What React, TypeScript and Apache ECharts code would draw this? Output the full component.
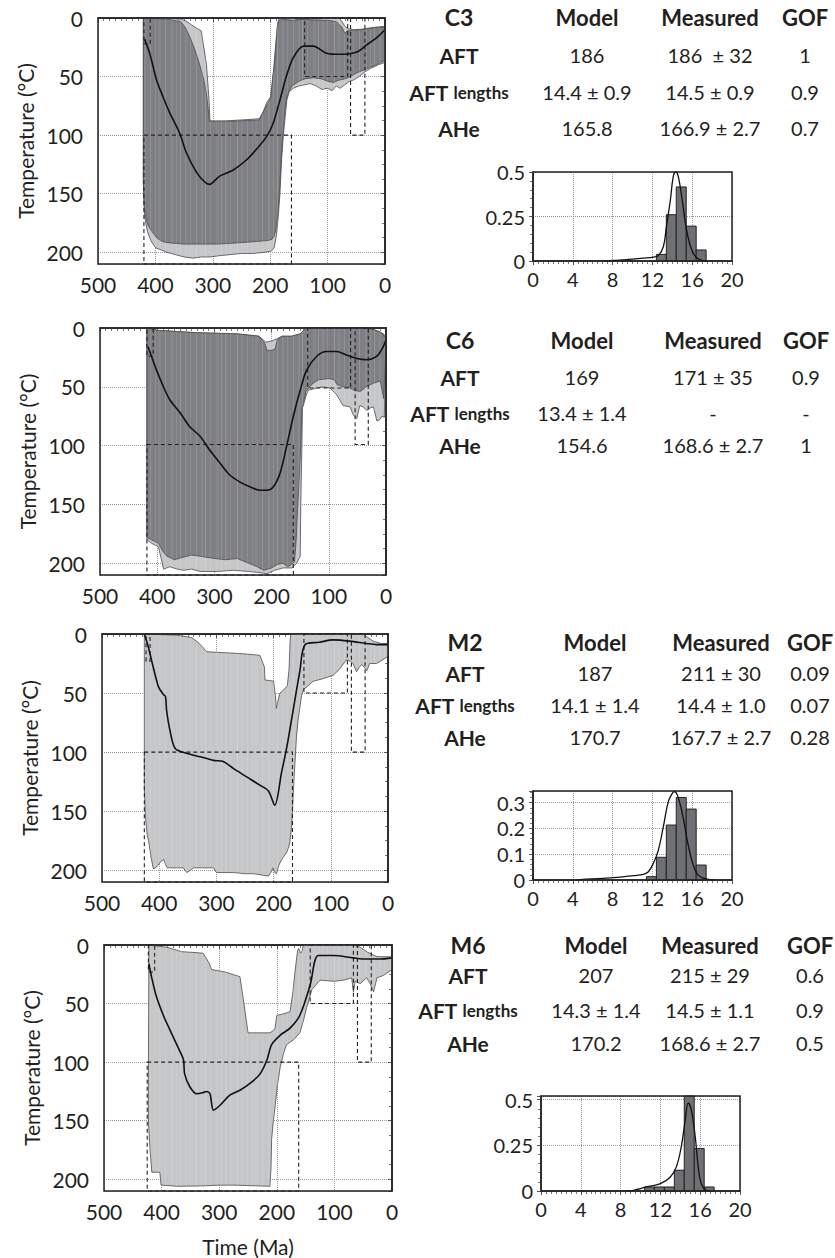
import React, { useEffect, useRef } from "react";
import * as echarts from "echarts";

type Pt = [number, number];
type Box = [number, number, number, number];

// ---------------- C3 ----------------
const c3LightUpper: Pt[] = [[421,0],[380,0],[355,1],[345,3],[337,6],[327,9],[320,11],[317,21],[314,30],[311,40],[308,60],[306,75],[305,88],[280,88],[250,87],[219,86],[212,80],[206,72],[199,67],[196,55],[193,38],[190,20],[187,5],[185,1],[180,0],[160,0],[148,2],[138,0],[118,1],[100,0],[80,0],[75,3],[70,7],[65,9],[55,10],[40,9.5],[20,8],[0,7]];
const c3LightLower: Pt[] = [[421,140],[420,160],[418,172],[414,182],[408,190],[400,196],[390,198],[380,200],[365,202],[350,204],[335,205],[320,204],[305,204],[290,203],[270,202],[250,201],[230,201],[210,200],[198,199],[193,196],[189,185],[186,170],[183,150],[180,120],[177,100],[174,85],[171,70],[167,63],[160,60],[150,58],[140,57],[130,56],[120,58],[110,61],[100,60],[92,62],[85,58],[78,60],[70,57],[62,54],[55,53],[45,50],[35,46],[25,43],[12,40],[0,38]];
const c3DarkUpper: Pt[] = [[421,0],[380,1],[356,3],[348,8],[340,16],[332,26],[324,38],[316,52],[311,65],[308,78],[306,88],[260,88],[219,87],[210,78],[203,72],[199,68],[196,52],[193,42],[190,25],[188,10],[186,3],[180,1],[160,2],[140,1],[120,2],[100,2],[85,3],[75,8],[70,13],[66,11],[55,10.5],[40,10],[20,8.5],[0,8]];
const c3DarkLower: Pt[] = [[421,140],[419,160],[417,170],[413,177],[405,183],[397,188],[387,191],[375,192],[350,193],[320,193],[290,193],[260,192],[230,191],[205,190],[197,189],[193,186],[190,180],[187,168],[184,150],[181,120],[178,100],[175,82],[172,70],[168,63],[162,58],[150,54],[140,52],[125,51],[110,52],[100,54],[90,55],[80,53],[70,52],[60,50],[50,47],[40,45],[30,43],[15,40],[0,36]];
const c3Best: Pt[] = [[419,18],[410,30],[398,53],[387,67],[375,81],[358,98],[346,115],[328,132],[314,140],[306,142],[288,135],[265,130],[241,121],[224,112],[206,101],[195,90],[183,70],[172,50],[160,34],[142,24],[125,24],[102,30],[78,31],[49,29],[32,23],[15,17],[0,10]];
const c3Boxes: Box[] = [[420,409,0,22],[420,163,100,210],[140,65,0,50],[60,35,0,100]];

// ---------------- C6 ----------------
const c6LightUpper: Pt[] = [[418,0],[400,2],[330,4],[260,5],[222,7],[210,12],[200,11],[190,9],[182,7],[165,7],[150,5],[144,2],[142,0],[45,0],[25,1],[12,3],[4,5],[0,10]];
const c6LightLower: Pt[] = [[418,180],[410,183],[398,186],[392,198],[389,205],[378,203],[365,205],[354,206],[340,205],[325,207],[296,207],[267,206],[240,207],[220,208],[208,209],[195,206],[180,204],[165,204],[160,202],[156,200],[152,196],[150,194],[149,150],[147,100],[146,68],[144,65],[140,58],[136,53],[121,51],[110,50],[98,51],[86,57],[75,66],[63,67],[57,74],[51,77],[46,66],[40,67],[34,70],[28,68],[22,67],[16,79],[11,78],[7,75],[3,76],[0,11]];
const c6DarkUpper: Pt[] = [[418,0],[400,2],[330,4],[260,5],[222,7],[212,13],[208,19],[200,19],[194,18],[190,10],[182,7],[165,7],[150,5],[144,2],[142,0],[45,0],[25,1],[12,3],[4,6],[0,10]];
const c6DarkLower: Pt[] = [[418,178],[410,180],[398,183],[390,190],[383,194],[370,197],[355,195],[340,193],[325,194],[300,196],[280,197],[260,196],[240,200],[225,203],[214,206],[200,204],[190,201],[180,200],[172,203],[165,201],[160,199],[157,180],[156,168],[152,130],[149,100],[147,68],[144,63],[140,54],[130,48],[118,44],[100,43],[90,44],[86,48],[75,50],[63,51],[55,53],[45,54],[35,50],[22,47],[10,45],[4,60],[0,11]];
const c6Best: Pt[] = [[416,16],[410,24],[401,36],[389,50],[378,61],[360,72],[343,84],[325,92],[308,104],[290,115],[273,125],[255,131],[238,135],[220,138],[209,138],[197,135],[185,123],[174,101],[162,75],[150,53],[139,36],[121,24],[104,20],[86,20],[69,23],[51,26],[34,27],[16,24],[5,16],[0,10]];
const c6Boxes: Box[] = [[418,407,0,24],[418,162,99,210],[137,62,0,51],[54,31,0,99]];

// ---------------- M2 ----------------
const m2LightUpper: Pt[] = [[426,0],[400,0.5],[370,1],[343,3],[330,8],[317,15],[300,15.5],[260,16.5],[224,18],[216,28],[215,39],[205,39.5],[200,40],[197,52],[195,63],[193,58],[189,50],[186,49],[180,46],[176,44],[173,30],[171,5],[170,0],[44,0],[35,3],[26,6],[12,8],[0,8]];
const m2LightLower: Pt[] = [[426,130],[424,155],[421,170],[418.6,175],[414,190],[410,199],[404,197],[398,193],[392,191],[389,195],[386,198],[370,198],[358,198],[352,202],[345,200],[340,198],[320,198],[305,198],[300,202],[285,202],[270,202],[250,203],[235,203],[222,204],[209,205],[205,202],[201,198],[198,202],[195,203],[191,196],[187,192],[183,189],[177,185],[172,178],[169,165],[167,150],[164,120],[160,87],[157,72],[154,62],[151,52],[148,47],[140,44],[131,40],[115,38],[96,35],[85,30],[73,22],[66,23],[61,25],[55,32],[50,28],[46,26],[40,29],[37,31],[32,25],[20,25],[10,22],[0,19]];
const m2Best: Pt[] = [[426,0],[419,11],[410,29],[401,45],[393,51],[389,53],[387,65],[381,82],[372,97],[352,101],[328,104],[305,107],[288,108],[270,114],[247,121],[224,128],[209,133],[198,145],[186,117],[177,96],[166,65],[154,31],[145,9],[120,7],[96,5],[67,6],[38,8],[20,9],[0,9]];
const m2Boxes: Box[] = [[423,416,0,23],[426,167,100,210],[147,71,0,50],[64,40,0,100]];

// ---------------- M6 ----------------
const m6LightUpper: Pt[] = [[422,0],[390,2],[365,5.7],[340,6.5],[328,7],[318,15],[313,21],[290,23],[264,27],[257,50],[250,75],[230,75],[212,75],[206,73],[203,71],[200,60],[190,59],[177,57],[172,40],[168,21],[164,5],[162,3],[159,7],[156,5],[154,0],[67,0],[55,2],[43,6],[26,10],[0,10]];
const m6LightLower: Pt[] = [[423,115],[423,150],[420,175],[417,194],[410,194],[403,194],[401,205],[370,206],[333,205.7],[300,205],[275,205],[240,205.5],[212,206],[210,190],[209,166],[206,150],[203,138],[199,120],[194,104],[188,92],[183,85],[171,81],[160,75],[154,65],[148,53],[139,38],[125,30],[101,31],[84,30],[70,28],[67,40],[64,31],[55,33],[44,28],[38,33],[32,40],[28,32],[26,28],[15,26],[0,21]];
const m6Best: Pt[] = [[422,16],[418,26],[409,44],[397,60],[386,72],[368,91],[362,98],[360,110],[351,121],[339,127],[328,126],[322,125],[316,127],[310,141],[299,137],[281,128],[264,124],[246,118],[229,110],[217,98],[209,85],[194,77],[177,71],[160,60],[142,34],[128,9],[101,9],[67,11],[43,12],[20,12],[0,11]];
const m6Boxes: Box[] = [[423,412,0,23],[425,162,100,210],[142,67,0,50],[60,36,0,100]];

// ---------------- Length histograms ----------------
const c3HistBins = [12.4, 13.4, 14.4, 15.4, 16.4];
const c3HistVals = [0.037, 0.26, 0.416, 0.196, 0.062];
const c3Curve: Pt[] = [[7,0],[8,0.003],[9,0.006],[10,0.01],[11,0.016],[12.1,0.022],[12.6,0.03],[13.1,0.08],[13.4,0.19],[13.8,0.34],[14.1,0.475],[14.35,0.5],[14.6,0.475],[15,0.34],[15.5,0.156],[16.1,0.043],[16.8,0.006],[17.5,0]];
const m2HistBins = [11.4, 12.4, 13.4, 14.4, 15.4, 16.4];
const m2HistVals = [0.013, 0.088, 0.213, 0.32, 0.275, 0.058];
const m2Curve: Pt[] = [[4.5,0],[5.4,0.003],[8.1,0.009],[10.1,0.017],[11.1,0.022],[11.6,0.032],[12.1,0.065],[12.6,0.116],[13.1,0.207],[13.6,0.304],[14,0.336],[14.2,0.343],[14.5,0.33],[15,0.259],[15.5,0.155],[16,0.071],[16.6,0.019],[17.5,0.003],[18.2,0]];
const m6HistBins = [10.4, 11.4, 12.4, 13.4, 14.4, 15.4, 16.4];
const m6HistVals = [0.022, 0.022, 0.022, 0.114, 0.52, 0.233, 0.022];
const m6Curve: Pt[] = [[8.5,0],[9.3,0.004],[10.6,0.022],[12,0.04],[13,0.077],[13.6,0.132],[14.1,0.243],[14.5,0.39],[14.8,0.482],[15.1,0.445],[15.5,0.298],[15.8,0.132],[16.1,0.04],[16.6,0.004],[17,0]];

// ---------------- Tables ----------------
const samples = ["C3", "C6", "M2", "M6"];
const colHeaders = ["Model", "Measured", "GOF"];
const rowLabels = ["AFT", "AFT lengths", "AHe"];
const modelVals = [
  ["186", "14.4 ± 0.9", "165.8"],
  ["169", "13.4 ± 1.4", "154.6"],
  ["187", "14.1 ± 1.4", "170.7"],
  ["207", "14.3 ± 1.4", "170.2"],
];
const measuredVals = [
  ["186  ± 32", "14.5 ± 0.9", "166.9 ± 2.7"],
  ["171 ± 35", "-", "168.6 ± 2.7"],
  ["211 ± 30", "14.4 ± 1.0", "167.7 ± 2.7"],
  ["215 ± 29", "14.5 ± 1.1", "168.6 ± 2.7"],
];
const gofVals = [
  ["1", "0.9", "0.7"],
  ["0.9", "-", "1"],
  ["0.09", "0.07", "0.28"],
  ["0.6", "0.9", "0.5"],
];

const FONT = "Lato";
const INK = "#231f20";

export default function App() {
  const ref = useRef<HTMLDivElement>(null);
  useEffect(() => {
    const chart = echarts.init(ref.current!, null, { renderer: "svg" });

    // stripe texture (visual only)
    const cv = document.createElement("canvas");
    cv.width = 97; cv.height = 4;
    const ctx = cv.getContext("2d")!;
    const stripeXs = [2, 7, 11, 16, 22, 27, 31, 36, 43, 47, 53, 58, 61, 68, 74, 79, 83, 88, 93];
    const stripeWs = [1, 2, 1, 1, 3, 1, 2, 1, 1, 2, 1, 1, 3, 1, 2, 1, 1, 2, 1];
    const stripeAs = [0.14, 0.08, 0.18, 0.1, 0.06, 0.15, 0.09, 0.12, 0.2, 0.07, 0.13, 0.1, 0.06, 0.16, 0.08, 0.12, 0.18, 0.07, 0.11];
    stripeXs.forEach((x, i) => {
      ctx.fillStyle = `rgba(255,255,255,${stripeAs[i]})`;
      ctx.fillRect(x, 0, stripeWs[i], 4);
    });
    const stripes: any = { image: cv, repeat: "repeat", imageWidth: 97, imageHeight: 4 };

    const mainGrids = [
      { left: 98, top: 18, width: 287, height: 246 },
      { left: 100, top: 328, width: 286, height: 247 },
      { left: 102, top: 634, width: 286, height: 248 },
      { left: 104, top: 945, width: 288, height: 247 },
    ];
    const panels = [
      { light: [c3LightUpper, c3LightLower], dark: [c3DarkUpper, c3DarkLower], best: c3Best, boxes: c3Boxes },
      { light: [c6LightUpper, c6LightLower], dark: [c6DarkUpper, c6DarkLower], best: c6Best, boxes: c6Boxes },
      { light: [m2LightUpper, m2LightLower], dark: null, best: m2Best, boxes: m2Boxes },
      { light: [m6LightUpper, m6LightLower], dark: null, best: m6Best, boxes: m6Boxes },
    ];
    const histGrids = [
      { left: 533, top: 172, width: 199, height: 89 },
      { left: 533, top: 791, width: 199, height: 89 },
      { left: 541, top: 1096, width: 199, height: 95 },
    ];
    const hists = [
      { bins: c3HistBins, vals: c3HistVals, curve: c3Curve, max: 0.5, interval: 0.25 },
      { bins: m2HistBins, vals: m2HistVals, curve: m2Curve, max: 0.345, interval: 0.1 },
      { bins: m6HistBins, vals: m6HistVals, curve: m6Curve, max: 0.52, interval: 0.25 },
    ];

    const grids: any[] = [];
    const xAxes: any[] = [];
    const yAxes: any[] = [];
    const series: any[] = [];

    const axisCommon = {
      axisLine: { show: true, lineStyle: { color: "#222", width: 1.5 } },
      axisTick: { show: true, length: 4, lineStyle: { color: "#555" } },
      splitLine: { show: true, lineStyle: { color: "#9a9a9a", type: "dotted", width: 1 } },
    };

    const envelope = (gi: number, upper: Pt[], lower: Pt[], fill: string) => ({
      type: "custom",
      xAxisIndex: gi,
      yAxisIndex: gi,
      silent: true,
      data: [[250, 100]],
      renderItem: (_p: any, api: any) => {
        const pts = upper.concat(lower.slice().reverse()).map((p) => api.coord(p));
        return {
          type: "group",
          children: [
            { type: "polygon", shape: { points: pts }, style: { fill, stroke: "#4a4a4a", lineWidth: 0.8 } },
            { type: "polygon", shape: { points: pts }, style: { fill: stripes, stroke: null } },
          ],
        };
      },
    });

    mainGrids.forEach((g, i) => {
      grids.push({ ...g, show: true, borderColor: "#222", borderWidth: 1.5, z: 10 });
      xAxes.push({
        gridIndex: i,
        type: "value",
        min: 0,
        max: 500,
        interval: 100,
        inverse: true,
        ...axisCommon,
        minorTick: { show: true, splitNumber: 10, length: 3, lineStyle: { color: "#777" } },
        axisLabel: { fontSize: 21, color: INK, fontFamily: FONT, margin: 10 },
        name: i === 3 ? "Time (Ma)" : "",
        nameLocation: "middle",
        nameGap: 45,
        nameTextStyle: { fontSize: 21, color: INK, fontFamily: FONT },
      });
      yAxes.push({
        gridIndex: i,
        type: "value",
        min: 0,
        max: 210,
        interval: 50,
        inverse: true,
        ...axisCommon,
        minorTick: { show: true, splitNumber: 4, length: 3, lineStyle: { color: "#777" } },
        axisLabel: { fontSize: 21, color: INK, fontFamily: FONT, margin: 15, showMaxLabel: false },
        name: "Temperature (°C)",
        nameLocation: "middle",
        nameGap: 62,
        nameRotate: 90,
        nameTextStyle: { fontSize: 21, color: INK, fontFamily: FONT },
      });
      const p = panels[i];
      series.push(envelope(i, p.light[0], p.light[1], "#c5c6c8"));
      if (p.dark) series.push(envelope(i, p.dark[0], p.dark[1], "#7f8083"));
      series.push({
        type: "line",
        xAxisIndex: i,
        yAxisIndex: i,
        data: p.best,
        showSymbol: false,
        smooth: 0.3,
        silent: true,
        lineStyle: { color: "#111", width: 1.6 },
      });
      series.push({
        type: "custom",
        xAxisIndex: i,
        yAxisIndex: i,
        silent: true,
        data: p.boxes,
        encode: { x: [0, 1], y: [2, 3] },
        renderItem: (_p: any, api: any) => {
          const a = api.coord([api.value(0), api.value(2)]);
          const b = api.coord([api.value(1), api.value(3)]);
          return {
            type: "rect",
            shape: { x: Math.min(a[0], b[0]), y: Math.min(a[1], b[1]), width: Math.abs(b[0] - a[0]), height: Math.abs(b[1] - a[1]) },
            style: { fill: null, stroke: "#222", lineWidth: 1.1, lineDash: [4, 3] },
          };
        },
      });
    });

    histGrids.forEach((g, k) => {
      const gi = 4 + k;
      const h = hists[k];
      grids.push({ ...g, show: true, borderColor: "#222", borderWidth: 1.5, z: 10 });
      xAxes.push({
        gridIndex: gi,
        type: "value",
        min: 0,
        max: 20,
        interval: 4,
        ...axisCommon,
        minorTick: { show: true, splitNumber: 8, length: 3, lineStyle: { color: "#777" } },
        axisLabel: { fontSize: 20, color: INK, fontFamily: FONT, margin: 8 },
      });
      yAxes.push({
        gridIndex: gi,
        type: "value",
        min: 0,
        max: h.max,
        interval: h.interval,
        ...axisCommon,
        minorTick: { show: true, splitNumber: 5, length: 3, lineStyle: { color: "#777" } },
        axisLabel: { fontSize: 20, color: INK, fontFamily: FONT, margin: 8, showMaxLabel: h.max === 0.5 },
      });
      series.push({
        type: "custom",
        xAxisIndex: gi,
        yAxisIndex: gi,
        silent: true,
        data: h.bins.map((b, j) => [b, b + 1, Math.min(h.vals[j], h.max)]),
        encode: { x: [0, 1], y: 2 },
        renderItem: (_p: any, api: any) => {
          const a = api.coord([api.value(0), api.value(2)]);
          const b = api.coord([api.value(1), 0]);
          return {
            type: "rect",
            shape: { x: a[0], y: a[1], width: b[0] - a[0], height: b[1] - a[1] },
            style: { fill: "#6f7073", stroke: "#222", lineWidth: 1 },
          };
        },
      });
      series.push({
        type: "line",
        xAxisIndex: gi,
        yAxisIndex: gi,
        data: h.curve,
        showSymbol: false,
        smooth: 0.4,
        silent: true,
        lineStyle: { color: "#111", width: 1.3 },
      });
    });

    // tables
    const tableLayout = [
      { cols: [459, 587, 710, 805], rows: [17, 55, 92, 128] },
      { cols: [460, 582, 713, 806], rows: [340, 377, 413, 445] },
      { cols: [465, 595, 721, 810], rows: [642, 673, 705, 737] },
      { cols: [468, 596, 710, 810], rows: [945, 975, 1010, 1043] },
    ];
    const graphic: any[] = [];
    const txt = (x: number, y: number, text: string, bold: boolean, size: number, rich?: any) => ({
      type: "text",
      x,
      y,
      style: {
        text,
        fontFamily: FONT,
        fontWeight: bold ? "bold" : "normal",
        fontSize: size,
        fill: INK,
        align: "center",
        verticalAlign: "middle",
        rich,
      },
    });
    const labelRich = {
      a: { fontFamily: FONT, fontWeight: "bold", fontSize: 21, fill: INK },
      b: { fontFamily: FONT, fontWeight: "bold", fontSize: 17, fill: INK },
    };
    samples.forEach((s, i) => {
      const L = tableLayout[i];
      graphic.push(txt(L.cols[0], L.rows[0], s, true, 23));
      colHeaders.forEach((c, j) => graphic.push(txt(L.cols[j + 1], L.rows[0], c, true, 22)));
      rowLabels.forEach((r, j) => {
        const parts = r.split(" ");
        if (parts.length > 1) {
          graphic.push(txt(L.cols[0], L.rows[j + 1], `{a|${parts[0]}} {b|${parts[1]}}`, true, 21, labelRich));
        } else {
          graphic.push(txt(L.cols[0], L.rows[j + 1], r, true, 21));
        }
        graphic.push(txt(L.cols[1], L.rows[j + 1], modelVals[i][j], false, 20));
        graphic.push(txt(L.cols[2], L.rows[j + 1], measuredVals[i][j], false, 20));
        graphic.push(txt(L.cols[3], L.rows[j + 1], gofVals[i][j], false, 20));
      });
    });

    chart.setOption({
      animation: false,
      backgroundColor: "#fff",
      textStyle: { fontFamily: FONT },
      grid: grids,
      xAxis: xAxes,
      yAxis: yAxes,
      series,
      graphic,
    });
    return () => chart.dispose();
  }, []);
  return (
    <div
      ref={ref}
      style={{ position: "absolute", left: 0, top: 0, width: 835, height: 1258, background: "#fff" }}
    />
  );
}
